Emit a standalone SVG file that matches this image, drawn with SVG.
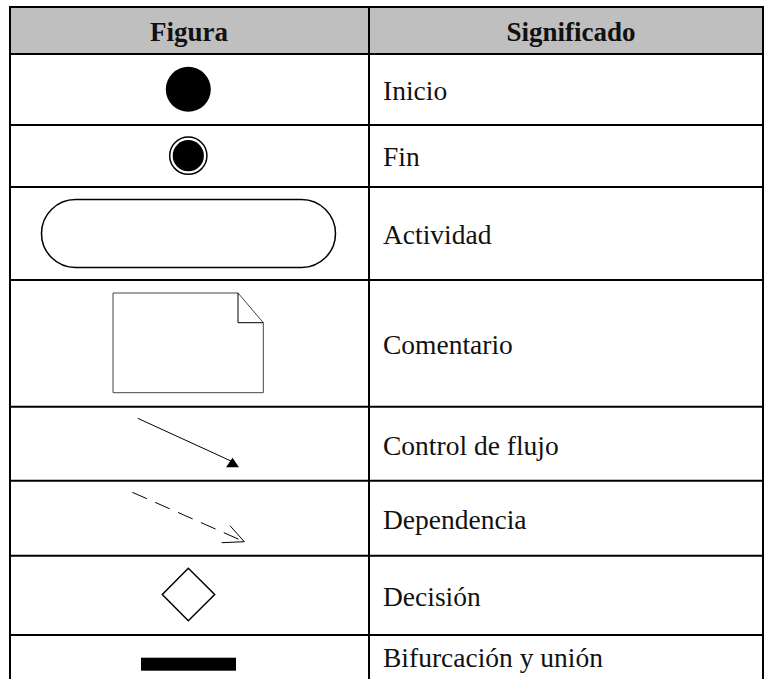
<svg xmlns="http://www.w3.org/2000/svg" width="765" height="679" viewBox="0 0 765 679">
<style>
.grid{stroke:#000;stroke-width:2;fill:none}
.hd{font-family:"Liberation Serif","Times New Roman",serif;font-size:27px;font-weight:bold;fill:#111;text-anchor:middle}
.tx{font-family:"Liberation Serif","Times New Roman",serif;font-size:27.5px;fill:#111}
.shape{fill:#fff;stroke:#000;stroke-width:1.5}
.thin{fill:none;stroke:#000;stroke-width:1}
</style>
<rect width="765" height="679" fill="#fff"/>
<g id="table">
<rect x="10" y="7" width="753" height="47" fill="#bfbfbf"/>
<line class="grid" x1="9" y1="7" x2="764" y2="7"/>
<line class="grid" x1="10" y1="6" x2="10" y2="680"/>
<line class="grid" x1="763" y1="6" x2="763" y2="680"/>
<line class="grid" x1="369" y1="6" x2="369" y2="680"/>
<line class="grid" x1="9" y1="54" x2="764" y2="54"/>
<line class="grid" x1="9" y1="125" x2="764" y2="125"/>
<line class="grid" x1="9" y1="187" x2="764" y2="187"/>
<line class="grid" x1="9" y1="280" x2="764" y2="280"/>
<line class="grid" x1="9" y1="406.7" x2="764" y2="406.7"/>
<line class="grid" x1="9" y1="480.7" x2="764" y2="480.7"/>
<line class="grid" x1="9" y1="555.7" x2="764" y2="555.7"/>
<line class="grid" x1="9" y1="635" x2="764" y2="635"/>
<text class="hd" x="189" y="41">Figura</text>
<text class="hd" x="571" y="41">Significado</text>
<text class="tx" x="383" y="100.3">Inicio</text>
<text class="tx" x="383" y="165.7">Fin</text>
<text class="tx" x="383" y="244.3">Actividad</text>
<text class="tx" x="383" y="354">Comentario</text>
<text class="tx" x="383" y="455.3">Control de flujo</text>
<text class="tx" x="383" y="529">Dependencia</text>
<text class="tx" x="383" y="606">Decisión</text>
<text class="tx" x="383" y="667.3">Bifurcación y unión</text>
</g>
<g id="inicio"><circle cx="188.3" cy="89.3" r="22.5" fill="#000"/></g>
<g id="fin">
<circle cx="188.3" cy="155.7" r="18.6" fill="#fff" stroke="#000" stroke-width="1.5"/>
<circle cx="188.3" cy="155.7" r="15.6" fill="#000"/>
</g>
<g id="actividad"><rect class="shape" x="41.5" y="199.5" width="294" height="68" rx="34" ry="34"/></g>
<g id="comentario">
<path d="M113 293 H238 L263.3 322.7 V392.7 H113 Z" fill="#fff" stroke="#444" stroke-width="1"/>
<path class="thin" d="M238 293 V322.7 H263.3"/>
</g>
<g id="connectors">
<g id="control-flujo">
<line class="thin" x1="137.7" y1="418.3" x2="231" y2="461"/>
<polygon points="226,467.3 239,467.3 232.5,457.7" fill="#000"/>
</g>
<g id="dependencia">
<line class="thin" x1="132.3" y1="492.3" x2="244.3" y2="541.7" stroke-dasharray="16 9"/>
<polyline class="thin" points="230,525.7 244.3,541.7 221.7,542.7"/>
</g>
</g>
<g id="decision"><polygon class="shape" points="188.3,568.3 214.7,594.5 188.3,620.7 162.3,594.5"/></g>
<g id="bifurcacion"><rect x="141" y="657.7" width="95" height="13" fill="#000"/></g>
</svg>
